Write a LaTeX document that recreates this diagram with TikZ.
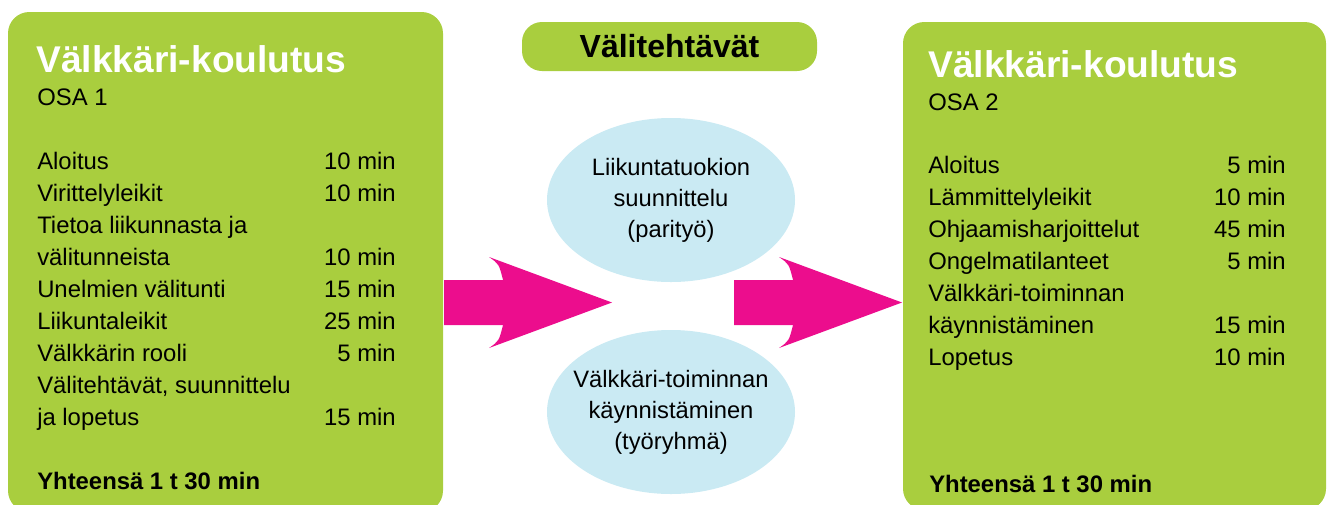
\documentclass[tikz,border=0pt]{standalone}
\usepackage{fontspec}
\setmainfont{Liberation Sans}
\usetikzlibrary{shapes.geometric}
\definecolor{boxgreen}{RGB}{169,206,62}
\definecolor{arrowpink}{RGB}{236,13,141}
\definecolor{ellblue}{RGB}{202,234,243}
\begin{document}
\begin{tikzpicture}[x=0.75pt,y=-0.75pt,
  bigbox/.style={fill=boxgreen, rounded corners=16pt, inner sep=0pt},
  pill/.style={fill=boxgreen, rounded corners=15pt, inner sep=0pt, font=\fontsize{24}{28}\selectfont\bfseries},
  title/.style={anchor=base west, inner sep=0pt, text=white, font=\fontsize{27.9}{32}\selectfont\bfseries},
  txt/.style={inner sep=0pt, font=\fontsize{17.9}{24}\selectfont},
  lt/.style={txt, anchor=base west},
  rt/.style={txt, anchor=base east},
  total/.style={anchor=base west, inner sep=0pt, font=\fontsize{17.9}{24}\selectfont\bfseries},
  ell/.style={ellipse, fill=ellblue, inner sep=0pt, minimum width=186pt, minimum height=123pt},
  elltext/.style={inner sep=0pt, align=center, font=\fontsize{17.8}{23.25}\selectfont},
  bigarrow/.style={fill=arrowpink}
]
\path[use as bounding box] (0,0) rectangle (1327,504);

% boxes
\node[bigbox, minimum width=326.25pt, minimum height=375pt] (lbox) at (225.5,262) {};
\node[bigbox, minimum width=317.25pt, minimum height=366pt] (rbox) at (1114.5,266) {};
\node[pill, minimum width=221.25pt, minimum height=36.75pt] (pill) at (669.5,46.5) {Välitehtävät};

% ellipses
\node[ell] (e1) at (671,200) {};
\node[elltext] (e1t) at (e1.center) {Liikuntatuokion\\suunnittelu\\(parityö)};
\node[ell] (e2) at (671,412) {};
\node[elltext] (e2t) at (e2.center) {Välkkäri-toiminnan\\käynnistäminen\\(työryhmä)};

% arrows
\fill[bigarrow] (444,280) -- (503,280) .. controls (499,264) .. (489,257) -- (612,302.5)
  -- (489,348) .. controls (499,341) .. (503,325) -- (444,325) -- cycle;
\fill[bigarrow] (734,280) -- (793,280) .. controls (789,264) .. (779,257) -- (902,302.5)
  -- (779,348) .. controls (789,341) .. (793,325) -- (734,325) -- cycle;

% left box content
\node[title] (lt0) at (36,72) {Välkkäri-koulutus};
\node[lt] (losa) at (37,105) {OSA 1};
\node[lt] (l1) at (37,169) {Aloitus};             \node[rt] (l1m) at (396,169) {10 min};
\node[lt] (l2) at (37,201) {Virittelyleikit};     \node[rt] (l2m) at (396,201) {10 min};
\node[lt] (l3) at (37,233) {Tietoa liikunnasta ja};
\node[lt] (l4) at (37,265) {välitunneista};       \node[rt] (l4m) at (396,265) {10 min};
\node[lt] (l5) at (37,297) {Unelmien välitunti};  \node[rt] (l5m) at (396,297) {15 min};
\node[lt] (l6) at (37,329) {Liikuntaleikit};      \node[rt] (l6m) at (396,329) {25 min};
\node[lt] (l7) at (37,361) {Välkkärin rooli};     \node[rt] (l7m) at (396,361) {5 min};
\node[lt] (l8) at (37,393) {Välitehtävät, suunnittelu};
\node[lt] (l9) at (37,425) {ja lopetus};          \node[rt] (l9m) at (396,425) {15 min};
\node[total] (ltot) at (37,489) {Yhteensä 1 t 30 min};

% right box content
\node[title] (rt0) at (928,77) {Välkkäri-koulutus};
\node[lt] (rosa) at (928,110) {OSA 2};
\node[lt] (r1) at (928,173) {Aloitus};               \node[rt] (r1m) at (1286,173) {5 min};
\node[lt] (r2) at (928,205) {Lämmittelyleikit};      \node[rt] (r2m) at (1286,205) {10 min};
\node[lt] (r3) at (928,237) {Ohjaamisharjoittelut};  \node[rt] (r3m) at (1286,237) {45 min};
\node[lt] (r4) at (928,269) {Ongelmatilanteet};      \node[rt] (r4m) at (1286,269) {5 min};
\node[lt] (r5) at (928,301) {Välkkäri-toiminnan};
\node[lt] (r6) at (928,333) {käynnistäminen};        \node[rt] (r6m) at (1286,333) {15 min};
\node[lt] (r7) at (928,365) {Lopetus};               \node[rt] (r7m) at (1286,365) {10 min};
\node[total] (rtot) at (929,492) {Yhteensä 1 t 30 min};
\end{tikzpicture}
\end{document}
